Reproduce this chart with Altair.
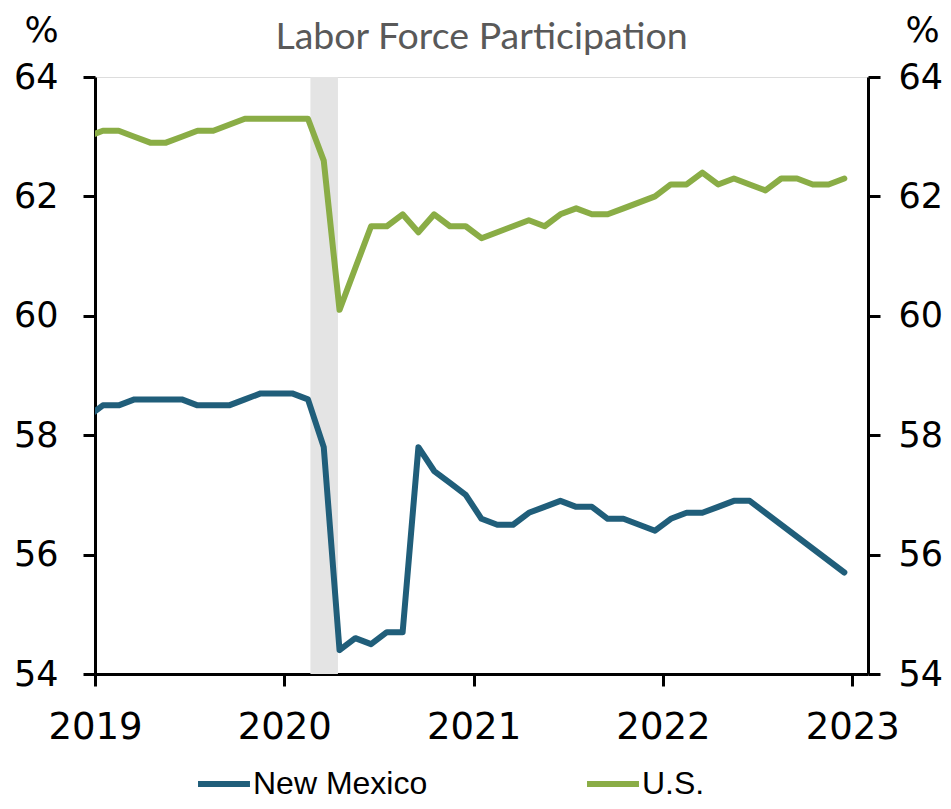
import altair as alt
import pandas as pd

# ---- data ----
first_month = "2018-12"          # first monthly observation (clipped at the left edge)
n_months = 49                    # Dec 2018 .. Dec 2022

us_lfpr = [63.0,
           63.1, 63.1, 63.0, 62.9, 62.9, 63.0, 63.1, 63.1, 63.2, 63.3, 63.3, 63.3,
           63.3, 63.3, 62.6, 60.1, 60.8, 61.5, 61.5, 61.7, 61.4, 61.7, 61.5, 61.5,
           61.3, 61.4, 61.5, 61.6, 61.5, 61.7, 61.8, 61.7, 61.7, 61.8, 61.9, 62.0,
           62.2, 62.2, 62.4, 62.2, 62.3, 62.2, 62.1, 62.3, 62.3, 62.2, 62.2, 62.3]

nm_lfpr = [58.3,
           58.5, 58.5, 58.6, 58.6, 58.6, 58.6, 58.5, 58.5, 58.5, 58.6, 58.7, 58.7,
           58.7, 58.6, 57.8, 54.4, 54.6, 54.5, 54.7, 54.7, 57.8, 57.4, 57.2, 57.0,
           56.6, 56.5, 56.5, 56.7, 56.8, 56.9, 56.8, 56.8, 56.6, 56.6, 56.5, 56.4,
           56.6, 56.7, 56.7, 56.8, 56.9, 56.9, None, None, None, None, None, 55.7]

series_names = ["New Mexico", "U.S."]
series_colors = ["#205E7A", "#8AAD46"]
recession_start = "2020-02-20"
recession_end = "2020-04-13"
year_ticks = [2019, 2020, 2021, 2022, 2023]
pct_ticks = [54, 56, 58, 60, 62, 64]
title_text = "Labor Force Participation"

# ---- build tables ----
months = pd.period_range(first_month, periods=n_months, freq="M")
xpos = [m.year + (m.month - 1 + 0.5) / 12 for m in months]

rows = []
for name, vals in zip(series_names, [nm_lfpr, us_lfpr]):
    for xp, v in zip(xpos, vals):
        if v is not None:
            rows.append({"x": xp, "value": v, "series": name})
df = pd.DataFrame(rows)


def dec(d):
    t = pd.Timestamp(d)
    return t.year + (t.month - 1 + (t.day - 1) / t.days_in_month) / 12


band_df = pd.DataFrame({"start": [dec(recession_start)], "end": [dec(recession_end)]})

# ---- scales / axes ----
FONT = "DejaVu Sans, Liberation Sans, sans-serif"
x_scale = alt.Scale(domain=[2019, 2023 + 1 / 12], nice=False, zero=False)
y_scale = alt.Scale(domain=[54, 64], nice=False, zero=False)

x_axis = alt.Axis(values=year_ticks, format="d", title=None, grid=False,
                  labelFont=FONT, labelFontSize=37, labelColor="black",
                  labelPadding=23, tickColor="black", tickWidth=3, tickSize=12,
                  domainColor="black", domainWidth=3, labelFlush=False)


def y_axis(orient, tx, pad):
    return alt.Axis(orient=orient, values=pct_ticks, format="d", grid=False,
                    title="%", titleAngle=0, titleX=tx, titleY=-36,
                    titleAlign="center", titleBaseline="alphabetic",
                    titleFont=FONT, titleFontSize=36, titleFontWeight="normal",
                    titleColor="black",
                    labelFont=FONT, labelFontSize=35, labelColor="black",
                    labelPadding=pad, tickColor="black", tickWidth=3, tickSize=12,
                    domainColor="black", domainWidth=3)


color_scale = alt.Scale(domain=series_names, range=series_colors)
legend = alt.Legend(orient="none", legendX=100, legendY=678, direction="horizontal",
                    title=None, symbolType="stroke", symbolSize=2700,
                    symbolStrokeWidth=6, labelFont="Liberation Sans, Arial, sans-serif",
                    labelFontSize=32, labelColor="black", labelOffset=0,
                    columnPadding=147, labelLimit=500)

band = alt.Chart(band_df).mark_rect(color="#E4E4E4").encode(
    x=alt.X("start:Q", scale=x_scale, axis=x_axis),
    x2="end:Q",
)

line_props = dict(strokeWidth=6, clip=True, strokeCap="round", strokeJoin="round")

nm_line = alt.Chart(df[df.series == "New Mexico"]).mark_line(**line_props).encode(
    x=alt.X("x:Q", scale=x_scale, axis=x_axis),
    y=alt.Y("value:Q", scale=y_scale, axis=y_axis("left", -54, 25)),
    color=alt.Color("series:N", scale=color_scale, legend=legend),
)

us_line = alt.Chart(df[df.series == "U.S."]).mark_line(**line_props).encode(
    x=alt.X("x:Q", scale=x_scale, axis=x_axis),
    y=alt.Y("value:Q", scale=y_scale, axis=y_axis("right", 54, 18)),
    color=alt.Color("series:N", scale=color_scale, legend=legend),
)

chart = (
    alt.layer(band, nm_line, us_line)
    .resolve_scale(y="independent")
    .properties(
        width=773, height=597,
        autosize=alt.AutoSizeParams(type="none"),
        padding={"left": 87, "top": 69, "right": 75, "bottom": 127},
        title=alt.TitleParams(title_text, font="Lato, Open Sans, sans-serif", fontSize=37.5,
                              color="#595959", fontWeight="normal", anchor="middle",
                              frame="group", baseline="alphabetic", offset=0, dy=74),
    )
    .configure_view(stroke=None)
    .configure(background="white")
)

chart.save("out.html", embed_options={"renderer": "svg", "actions": False})
